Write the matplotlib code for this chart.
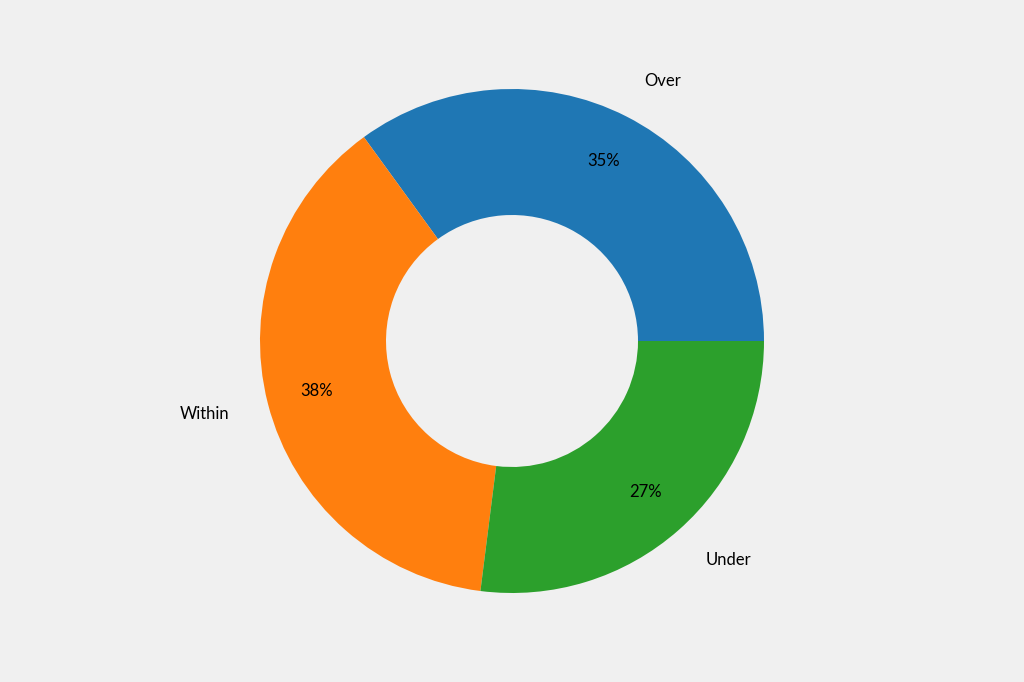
import matplotlib
matplotlib.use("Agg")
import matplotlib.pyplot as plt

labels = ["Over", "Within", "Under"]
values = [35, 38, 27]
colors = ["#1f77b4", "#ff7f0e", "#2ca02c"]

fig = plt.figure(figsize=(10.24, 6.82), dpi=100, facecolor="#f0f0f0")
ax = fig.add_axes([0, 0, 1, 1])
ax.set_facecolor("#f0f0f0")
ax.pie(values, labels=labels, colors=colors, startangle=0, counterclock=True,
       autopct="%1.0f%%", pctdistance=0.8, labeldistance=1.16,
       wedgeprops=dict(width=0.5), textprops=dict(fontsize=12, family=["Lato", "DejaVu Sans"]))
h = 682 / 252 / 2
w = 1024 / 252 / 2
ax.set_xlim(-w, w)
ax.set_ylim(-h, h)
ax.set_aspect("equal")
ax.axis("off")
fig.savefig("out.png", dpi=100, facecolor="#f0f0f0")
